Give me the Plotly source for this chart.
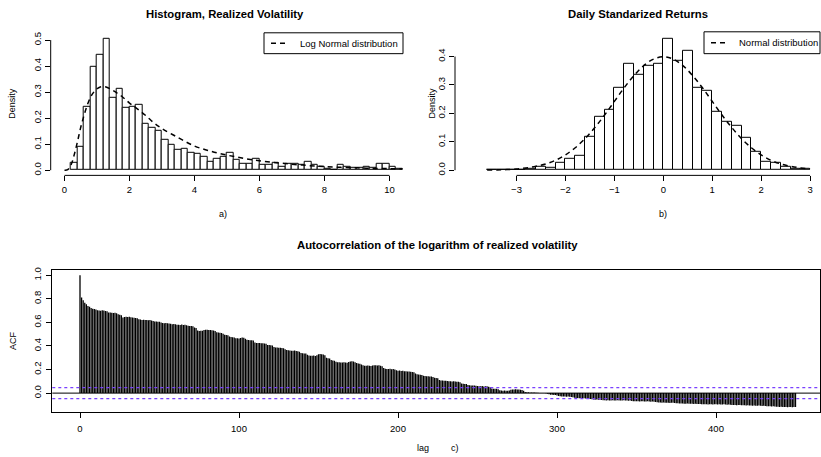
import plotly.graph_objects as go

# ---------------- data ----------------
# Panel a) histogram of realized volatility (bin width 0.2, first bin starts at 0.2)
rv_bin_start = 0.2
rv_bin_width = 0.2
rv_density = [0.028, 0.089, 0.242, 0.397, 0.445, 0.506, 0.280, 0.312, 0.238, 0.242,
              0.252, 0.178, 0.162, 0.153, 0.117, 0.098, 0.079, 0.083, 0.066, 0.064,
              0.051, 0.034, 0.045, 0.050, 0.067, 0.041, 0.025, 0.025, 0.042, 0.020,
              0.020, 0.030, 0.015, 0.025, 0.025, 0.020, 0.032, 0.022, 0.015, 0.005,
              0.003, 0.020, 0.012, 0.010, 0.010, 0.012, 0.008, 0.025, 0.025, 0.012,
              0.007]
# log-normal density curve
lognorm_x = [0.0, 0.1, 0.2, 0.3, 0.4, 0.5, 0.6, 0.7, 0.8, 0.9, 1.0, 1.1, 1.2, 1.3, 1.4,
             1.5, 1.75, 2.0, 2.25, 2.5, 2.75, 3.0, 3.5, 4.0, 4.5, 5.0, 5.5, 6.0, 6.5,
             7.0, 7.5, 8.0, 8.5, 9.0, 9.5, 10.0, 10.4]
lognorm_y = [0.0, 0.002, 0.020, 0.060, 0.110, 0.165, 0.210, 0.250, 0.280, 0.300, 0.313,
             0.320, 0.321, 0.319, 0.313, 0.306, 0.285, 0.258, 0.235, 0.210, 0.182, 0.160,
             0.125, 0.093, 0.073, 0.058, 0.046, 0.036, 0.029, 0.023, 0.018, 0.014, 0.011,
             0.009, 0.007, 0.006, 0.005]

# Panel b) histogram of daily standardized returns (bin width 0.2, from -3.6)
ret_bin_start = -3.6
ret_bin_width = 0.2
ret_density = [0.003, 0.000, 0.003, 0.003, 0.005, 0.012, 0.009, 0.026, 0.041, 0.049,
               0.119, 0.189, 0.213, 0.289, 0.373, 0.334, 0.367, 0.373, 0.464, 0.385,
               0.420, 0.291, 0.280, 0.204, 0.172, 0.157, 0.113, 0.066, 0.031, 0.026,
               0.012, 0.006, 0.005]
normal_x = [-3.6, -3.4, -3.2, -3.0, -2.8, -2.6, -2.4, -2.2, -2.0, -1.8, -1.6, -1.4, -1.2,
            -1.0, -0.8, -0.6, -0.4, -0.2, 0.0, 0.2, 0.4, 0.6, 0.8, 1.0, 1.2, 1.4, 1.6,
            1.8, 2.0, 2.2, 2.4, 2.6, 2.8, 3.0]
normal_y = [0.001, 0.001, 0.002, 0.004, 0.008, 0.014, 0.022, 0.035, 0.054, 0.079, 0.111,
            0.150, 0.194, 0.242, 0.290, 0.333, 0.368, 0.391, 0.399, 0.391, 0.368, 0.333,
            0.290, 0.242, 0.194, 0.150, 0.111, 0.079, 0.054, 0.035, 0.022, 0.014, 0.008,
            0.004]

# Panel c) ACF of log realized volatility, lags 0..450
acf_values = [
    1.000, 0.810, 0.787, 0.767, 0.753, 0.739, 0.733, 0.722, 0.716, 0.713,
    0.710, 0.702, 0.700, 0.698, 0.703, 0.700, 0.696, 0.694, 0.683, 0.684,
    0.681, 0.680, 0.682, 0.678, 0.669, 0.664, 0.660, 0.641, 0.646, 0.648,
    0.645, 0.647, 0.644, 0.641, 0.640, 0.638, 0.634, 0.626, 0.624, 0.620,
    0.622, 0.619, 0.621, 0.618, 0.620, 0.616, 0.612, 0.607, 0.608, 0.605,
    0.606, 0.598, 0.594, 0.593, 0.595, 0.592, 0.591, 0.589, 0.584, 0.586,
    0.583, 0.579, 0.580, 0.578, 0.581, 0.577, 0.579, 0.575, 0.571, 0.570,
    0.569, 0.568, 0.556, 0.552, 0.530, 0.527, 0.528, 0.529, 0.536, 0.538,
    0.537, 0.535, 0.536, 0.533, 0.530, 0.527, 0.516, 0.514, 0.512, 0.510,
    0.504, 0.496, 0.493, 0.490, 0.480, 0.476, 0.474, 0.472, 0.466, 0.465,
    0.464, 0.468, 0.471, 0.470, 0.462, 0.452, 0.450, 0.448, 0.449, 0.446,
    0.430, 0.426, 0.424, 0.425, 0.422, 0.423, 0.420, 0.418, 0.409, 0.407,
    0.405, 0.404, 0.392, 0.387, 0.386, 0.384, 0.385, 0.383, 0.380, 0.372,
    0.366, 0.364, 0.362, 0.360, 0.359, 0.361, 0.357, 0.354, 0.350, 0.340,
    0.338, 0.336, 0.335, 0.325, 0.319, 0.317, 0.316, 0.318, 0.315, 0.322,
    0.330, 0.331, 0.329, 0.328, 0.322, 0.300, 0.296, 0.293, 0.280, 0.276,
    0.274, 0.265, 0.262, 0.261, 0.260, 0.259, 0.262, 0.260, 0.258, 0.263,
    0.268, 0.271, 0.269, 0.262, 0.255, 0.252, 0.250, 0.243, 0.236, 0.233,
    0.232, 0.234, 0.233, 0.231, 0.235, 0.237, 0.236, 0.234, 0.236, 0.233,
    0.228, 0.212, 0.207, 0.205, 0.204, 0.206, 0.203, 0.204, 0.200, 0.194,
    0.190, 0.191, 0.188, 0.189, 0.186, 0.185, 0.183, 0.184, 0.181, 0.180,
    0.178, 0.166, 0.159, 0.157, 0.155, 0.154, 0.148, 0.145, 0.143, 0.142,
    0.141, 0.140, 0.136, 0.130, 0.128, 0.126, 0.112, 0.108, 0.106, 0.105,
    0.104, 0.102, 0.101, 0.100, 0.099, 0.100, 0.098, 0.097, 0.096, 0.092,
    0.082, 0.080, 0.078, 0.077, 0.068, 0.066, 0.065, 0.064, 0.065, 0.062,
    0.060, 0.059, 0.058, 0.060, 0.057, 0.059, 0.058, 0.055, 0.050, 0.040,
    0.038, 0.036, 0.037, 0.033, 0.025, 0.023, 0.021, 0.022, 0.020, 0.021,
    0.023, 0.028, 0.030, 0.031, 0.032, 0.030, 0.031, 0.029, 0.027, 0.020,
    0.010, 0.008, 0.007, 0.006, 0.005, 0.006, 0.005, 0.004, 0.003, 0.002,
    0.001, 0.000, -0.001, -0.002, -0.006, -0.010, -0.013, -0.014, -0.015, -0.016,
    -0.020, -0.024, -0.027, -0.028, -0.029, -0.028, -0.030, -0.029, -0.031, -0.033,
    -0.036, -0.039, -0.041, -0.042, -0.043, -0.042, -0.044, -0.043, -0.045, -0.046,
    -0.048, -0.049, -0.052, -0.055, -0.056, -0.055, -0.057, -0.056, -0.058, -0.060,
    -0.061, -0.062, -0.060, -0.062, -0.063, -0.061, -0.062, -0.063, -0.061, -0.062,
    -0.063, -0.062, -0.061, -0.063, -0.062, -0.064, -0.063, -0.066, -0.068, -0.069,
    -0.070, -0.069, -0.071, -0.070, -0.069, -0.071, -0.072, -0.070, -0.071, -0.073,
    -0.072, -0.074, -0.076, -0.078, -0.079, -0.080, -0.081, -0.080, -0.082, -0.081,
    -0.082, -0.083, -0.081, -0.082, -0.084, -0.085, -0.086, -0.087, -0.088, -0.089,
    -0.090, -0.091, -0.089, -0.090, -0.091, -0.090, -0.092, -0.091, -0.093, -0.092,
    -0.093, -0.094, -0.095, -0.094, -0.095, -0.096, -0.095, -0.094, -0.096, -0.095,
    -0.094, -0.096, -0.095, -0.097, -0.096, -0.095, -0.097, -0.098, -0.097, -0.099,
    -0.100, -0.101, -0.100, -0.102, -0.101, -0.100, -0.102, -0.103, -0.102, -0.104,
    -0.103, -0.105, -0.106, -0.107, -0.106, -0.108, -0.107, -0.106, -0.108, -0.109,
    -0.108, -0.110, -0.111, -0.112, -0.111, -0.113, -0.112, -0.114, -0.115, -0.116,
    -0.117, -0.116, -0.118, -0.117, -0.118, -0.119, -0.118, -0.117, -0.119, -0.118,
    -0.118,
]
acf_ci = 0.047

rv_ticks = [0, 2, 4, 6, 8, 10]
rv_yticks = [0.0, 0.1, 0.2, 0.3, 0.4, 0.5]
ret_ticks = [-3, -2, -1, 0, 1, 2, 3]
ret_yticks = [0.0, 0.1, 0.2, 0.3, 0.4]
acf_xticks = [0, 100, 200, 300, 400]
acf_yticks = [0.0, 0.2, 0.4, 0.6, 0.8, 1.0]

legend_a = "Log Normal distribution"
legend_b = "Normal distribution"

# ---------------- figure ----------------
W, H = 821, 457
FONT = "Liberation Sans, Arial, Helvetica, sans-serif"


def px(x):
    return x / W


def py(y):
    return (H - y) / H


fig = go.Figure()

rv_centers = [rv_bin_start + rv_bin_width * (i + 0.5) for i in range(len(rv_density))]
fig.add_trace(go.Bar(x=rv_centers, y=rv_density, width=rv_bin_width,
                     marker=dict(color="white", line=dict(color="black", width=1)),
                     showlegend=False, xaxis="x", yaxis="y"))
fig.add_trace(go.Scatter(x=lognorm_x, y=lognorm_y, mode="lines",
                         line=dict(color="black", width=1.5, dash="5px,4px", shape="spline"),
                         name=legend_a, showlegend=False,
                         xaxis="x", yaxis="y"))

ret_centers = [ret_bin_start + ret_bin_width * (i + 0.5) for i in range(len(ret_density))]
fig.add_trace(go.Bar(x=ret_centers, y=ret_density, width=ret_bin_width,
                     marker=dict(color="white", line=dict(color="black", width=1)),
                     showlegend=False, xaxis="x2", yaxis="y2"))
fig.add_trace(go.Scatter(x=normal_x, y=normal_y, mode="lines",
                         line=dict(color="black", width=1.5, dash="5px,4px", shape="spline"),
                         name=legend_b, showlegend=False,
                         xaxis="x2", yaxis="y2"))

# ACF spikes (type = "h")
seg_x, seg_y = [], []
for lag, v in enumerate(acf_values):
    seg_x += [lag, lag, None]
    seg_y += [0, v, None]
fig.add_trace(go.Scatter(x=seg_x, y=seg_y, mode="lines",
                         line=dict(color="black", width=1.3),
                         showlegend=False, xaxis="x3", yaxis="y3"))

tickfont = dict(family=FONT, size=9.5, color="black")

fig.update_layout(
    width=W, height=H,
    margin=dict(l=0, r=0, t=0, b=0),
    paper_bgcolor="white", plot_bgcolor="white",
    font=dict(family=FONT, color="black"),
    bargap=0,
    showlegend=False,
    xaxis=dict(domain=[px(50.7), px(410)], range=[-0.4246, 10.631],
               tickvals=rv_ticks, ticks="outside", ticklen=5, tickcolor="black",
               showline=False, showgrid=False, zeroline=False, tickfont=tickfont,
               anchor="y"),
    yaxis=dict(domain=[py(173.5), py(30)], range=[-0.0198, 0.5279],
               tickvals=rv_yticks, tickformat=".1f", tickangle=-90,
               ticks="outside", ticklen=5, tickcolor="black",
               showline=False, showgrid=False, zeroline=False, tickfont=tickfont,
               anchor="x"),
    xaxis2=dict(domain=[px(455), 1.0], range=[-4.2571, 3.2230],
                tickvals=ret_ticks, ticks="outside", ticklen=5, tickcolor="black",
                showline=False, showgrid=False, zeroline=False, tickfont=tickfont,
                anchor="y2"),
    yaxis2=dict(domain=[py(173.5), py(30)], range=[-0.0182, 0.48357],
                tickvals=ret_yticks, tickformat=".1f", tickangle=-90,
                ticks="outside", ticklen=5, tickcolor="black",
                showline=False, showgrid=False, zeroline=False, tickfont=tickfont,
                anchor="x2"),
    xaxis3=dict(domain=[px(52.3), px(820)], range=[-17.42, 465.41],
                tickvals=acf_xticks, ticks="outside", ticklen=5, tickcolor="black",
                showline=True, mirror=True, linecolor="black", linewidth=1,
                showgrid=False, zeroline=False, tickfont=tickfont,
                ticklabelstandoff=3, anchor="y3"),
    yaxis3=dict(domain=[py(411.7), py(269)], range=[-0.16007, 1.04212],
                tickvals=acf_yticks, tickformat=".1f", tickangle=-90,
                ticks="outside", ticklen=5, tickcolor="black",
                showline=True, mirror=True, linecolor="black", linewidth=1,
                showgrid=False, zeroline=False, tickfont=tickfont,
                ticklabelstandoff=2, anchor="x3"),
)

shapes = [
    # axis lines of the histograms (first to last tick)
    dict(type="line", xref="x", yref="y domain", x0=rv_ticks[0], x1=rv_ticks[-1], y0=0, y1=0,
         line=dict(color="black", width=1)),
    dict(type="line", xref="x domain", yref="y", x0=0, x1=0, y0=rv_yticks[0], y1=rv_yticks[-1],
         line=dict(color="black", width=1)),
    dict(type="line", xref="x2", yref="y2 domain", x0=ret_ticks[0], x1=ret_ticks[-1], y0=0, y1=0,
         line=dict(color="black", width=1)),
    dict(type="line", xref="x2 domain", yref="y2", x0=0, x1=0, y0=ret_yticks[0], y1=ret_yticks[-1],
         line=dict(color="black", width=1)),
    # ACF zero line and confidence bands
    dict(type="line", xref="x3 domain", yref="y3", x0=0, x1=1, y0=0, y1=0,
         line=dict(color="black", width=1)),
    dict(type="line", xref="x3 domain", yref="y3", x0=0, x1=1, y0=acf_ci, y1=acf_ci,
         line=dict(color="#7a40ff", width=1.3, dash="3px,3px")),
    dict(type="line", xref="x3 domain", yref="y3", x0=0, x1=1, y0=-acf_ci, y1=-acf_ci,
         line=dict(color="#7a40ff", width=1.3, dash="3px,3px")),
    # legend boxes
    dict(type="rect", xref="paper", yref="paper", x0=px(264), x1=px(403), y0=py(51), y1=py(30),
         fillcolor="white", line=dict(color="black", width=1)),
    dict(type="line", xref="paper", yref="paper", x0=px(271), x1=px(289), y0=py(40.5), y1=py(40.5),
         line=dict(color="black", width=1.5, dash="5px,4px")),
    dict(type="rect", xref="paper", yref="paper", x0=px(704), x1=px(820), y0=py(51), y1=py(29),
         fillcolor="white", line=dict(color="black", width=1)),
    dict(type="line", xref="paper", yref="paper", x0=px(711), x1=px(729), y0=py(40), y1=py(40),
         line=dict(color="black", width=1.5, dash="5px,4px")),
]
fig.update_layout(shapes=shapes)

ann = []


def text(x, y, s, size=9.5, bold=False, angle=0, anchor="center"):
    ann.append(dict(x=px(x), y=py(y), xref="paper", yref="paper",
                    text=("<b>%s</b>" % s) if bold else s,
                    showarrow=False, xanchor=anchor, yanchor="middle", textangle=angle,
                    font=dict(family=FONT, size=size, color="black")))


text(225, 11, "Histogram, Realized Volatility", size=11.3, bold=True)
text(637.7, 11, "Daily Standarized Returns", size=11.3, bold=True)
text(437, 244, "Autocorrelation of the logarithm of realized volatility", size=11.3, bold=True)
text(223.3, 212.3, "a)", size=9)
text(663.3, 212.3, "b)", size=9)
text(422.7, 448.3, "lag", size=9)
text(455, 448.3, "c)", size=9)
text(12.3, 101, "Density", size=9, angle=-90)
text(431.7, 100.5, "Density", size=9, angle=-90)
text(12.3, 340, "ACF", size=9, angle=-90)
text(298, 40.5, legend_a, size=9.5, anchor="left")
text(737, 40, legend_b, size=9.5, anchor="left")
fig.update_layout(annotations=ann)

fig.write_html("out.html", config={"displayModeBar": False},
               post_script="document.body.style.margin='0';document.body.style.padding='0';")
